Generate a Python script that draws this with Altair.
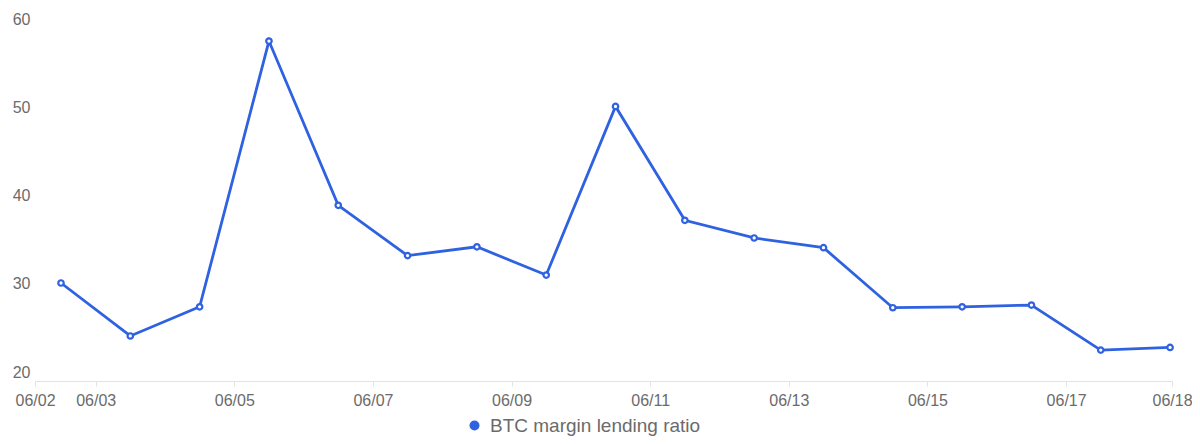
import altair as alt
import pandas as pd

# ---- data ----
dates = [
    "2024-06-02T12:00:00Z", "2024-06-03T12:00:00Z", "2024-06-04T12:00:00Z",
    "2024-06-05T12:00:00Z", "2024-06-06T12:00:00Z", "2024-06-07T12:00:00Z",
    "2024-06-08T12:00:00Z", "2024-06-09T12:00:00Z", "2024-06-10T12:00:00Z",
    "2024-06-11T12:00:00Z", "2024-06-12T12:00:00Z", "2024-06-13T12:00:00Z",
    "2024-06-14T12:00:00Z", "2024-06-15T12:00:00Z", "2024-06-16T12:00:00Z",
    "2024-06-17T12:00:00Z", "2024-06-18T12:00:00Z",
]
values = [30.1, 24.1, 27.4, 57.5, 38.9, 33.2, 34.2, 31.0, 50.1,
          37.2, 35.2, 34.1, 27.3, 27.4, 27.6, 22.5, 22.8]
series_name = "BTC margin lending ratio"

x_domain = ["2024-06-02T03:00:00Z", "2024-06-18T12:40:00Z"]
x_tick_dates = [
    "2024-06-02T03:00:00Z", "2024-06-03T00:00:00Z", "2024-06-05T00:00:00Z",
    "2024-06-07T00:00:00Z", "2024-06-09T00:00:00Z", "2024-06-11T00:00:00Z",
    "2024-06-13T00:00:00Z", "2024-06-15T00:00:00Z", "2024-06-17T00:00:00Z",
    "2024-06-18T12:40:00Z",
]
y_domain = [19, 60]
y_ticks = [20, 30, 40, 50, 60]

def ms(s):
    return int(pd.Timestamp(s).value // 10**6)

df = pd.DataFrame({"date": dates, "value": values, "series": series_name})

BLUE = "#2f62e0"
GRAY = "#6b6b6b"
FONT = "Liberation Sans"

x = alt.X(
    "date:T",
    title=None,
    scale=alt.Scale(type="utc", domain=[ms(d) for d in x_domain]),
    axis=alt.Axis(
        values=[ms(d) for d in x_tick_dates],
        labelExpr="utcFormat(datum.value, '%m/%d')",
        labelAlign="center",
        labelFlush=False,
        labelOverlap=False,
        grid=False,
        domainColor="#e3e3e3",
        tickColor="#e3e3e3",
        tickSize=5,
        labelPadding=6,
        labelColor=GRAY,
        labelFontSize=16,
        labelFont=FONT,
    ),
)
y = alt.Y(
    "value:Q",
    title=None,
    scale=alt.Scale(domain=y_domain, nice=False, zero=False),
    axis=alt.Axis(
        values=y_ticks,
        grid=False,
        domain=False,
        ticks=False,
        labelPadding=5,
        labelColor=GRAY,
        labelFontSize=16,
        labelFont=FONT,
    ),
)
color = alt.Color(
    "series:N",
    scale=alt.Scale(range=[BLUE]),
    legend=alt.Legend(
        title=None,
        orient="none",
        legendX=430,
        legendY=397,
        symbolType="circle",
        symbolSize=100,
        symbolFillColor=BLUE,
        symbolStrokeColor=BLUE,
        symbolStrokeWidth=0,
        labelFontSize=19,
        labelColor=GRAY,
        labelFont=FONT,
        labelOffset=6,
        labelLimit=0,
    ),
)

line = alt.Chart(df).mark_line(strokeWidth=2.8).encode(x=x, y=y, color=color)
points = alt.Chart(df).mark_point(
    shape="circle", size=30, filled=False, fill="white", fillOpacity=1, strokeWidth=2.2, opacity=1
).encode(x=x, y=y, color=alt.Color("series:N", scale=alt.Scale(range=[BLUE]), legend=None))

chart = (
    alt.layer(line, points)
    .properties(
        width=1137,
        height=362,
        autosize=alt.AutoSizeParams(type="none"),
        padding={"left": 27, "top": 11, "right": 20, "bottom": 60},
        background="white",
    )
    .configure_view(stroke=None)
)

chart.save("out.html", embed_options={"renderer": "svg", "actions": False})
